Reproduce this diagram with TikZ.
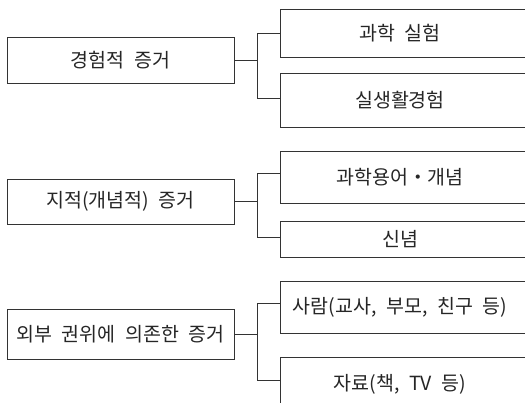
\documentclass[tikz,border=0pt]{standalone}
\usepackage{fontspec}
\setmainfont{Noto Sans CJK KR}[WordSpace=2.2]
\begin{document}
\begin{tikzpicture}[x=1pt,y=-1pt,
  box/.style={draw=black!80, line width=0.9pt, inner sep=0pt, outer sep=0pt, anchor=north west,
    font=\fontsize{19.5}{22}\selectfont, text=black!85},
  lbox/.style={box, minimum width=227pt},
  rbox/.style={box, minimum width=250pt},
  link/.style={draw=black!80, line width=0.9pt}]
\useasboundingbox[fill=white] (0,0) rectangle (525,402);

% group 1
\node[lbox, minimum height=46pt] (L1) at (7,37) {경험적 증거};
\node[rbox, minimum height=48pt] (R1a) at (280,9) {과학 실험\hspace*{10pt}};
\node[rbox, minimum height=54pt] (R1b) at (280,73) {실생활경험\hspace*{10pt}};
\coordinate (J1a) at (257,33);
\coordinate (J1b) at (257,98);
\draw[link] (L1.east) -- (L1.east -| J1a);
\draw[link] (R1a.west |- J1a) -- (J1a) -- (J1b) -- (R1b.west |- J1b);

% group 2
\node[lbox, minimum height=45pt] (L2) at (7,179) {지적(개념적) 증거};
\node[rbox, minimum height=52pt] (R2a) at (280,151) {과학용어・개념\hspace*{10pt}};
\node[rbox, minimum height=36pt] (R2b) at (280,221) {신념\hspace*{10pt}};
\coordinate (J2a) at (257,173);
\coordinate (J2b) at (257,237);
\draw[link] (L2.east) -- (L2.east -| J2a);
\draw[link] (R2a.west |- J2a) -- (J2a) -- (J2b) -- (R2b.west |- J2b);

% group 3
\node[lbox, minimum height=50pt] (L3) at (7,309) {외부 권위에 의존한 증거};
\node[rbox, minimum height=52pt] (R3a) at (280,281) {사람(교사, 부모, 친구 등)\hspace*{10pt}};
\node[rbox, minimum height=54pt] (R3b) at (280,357) {자료(책, TV 등)\hspace*{10pt}};
\coordinate (J3a) at (257,303);
\coordinate (J3b) at (257,380);
\draw[link] (L3.east) -- (L3.east -| J3a);
\draw[link] (R3a.west |- J3a) -- (J3a) -- (J3b) -- (R3b.west |- J3b);
\end{tikzpicture}
\end{document}
